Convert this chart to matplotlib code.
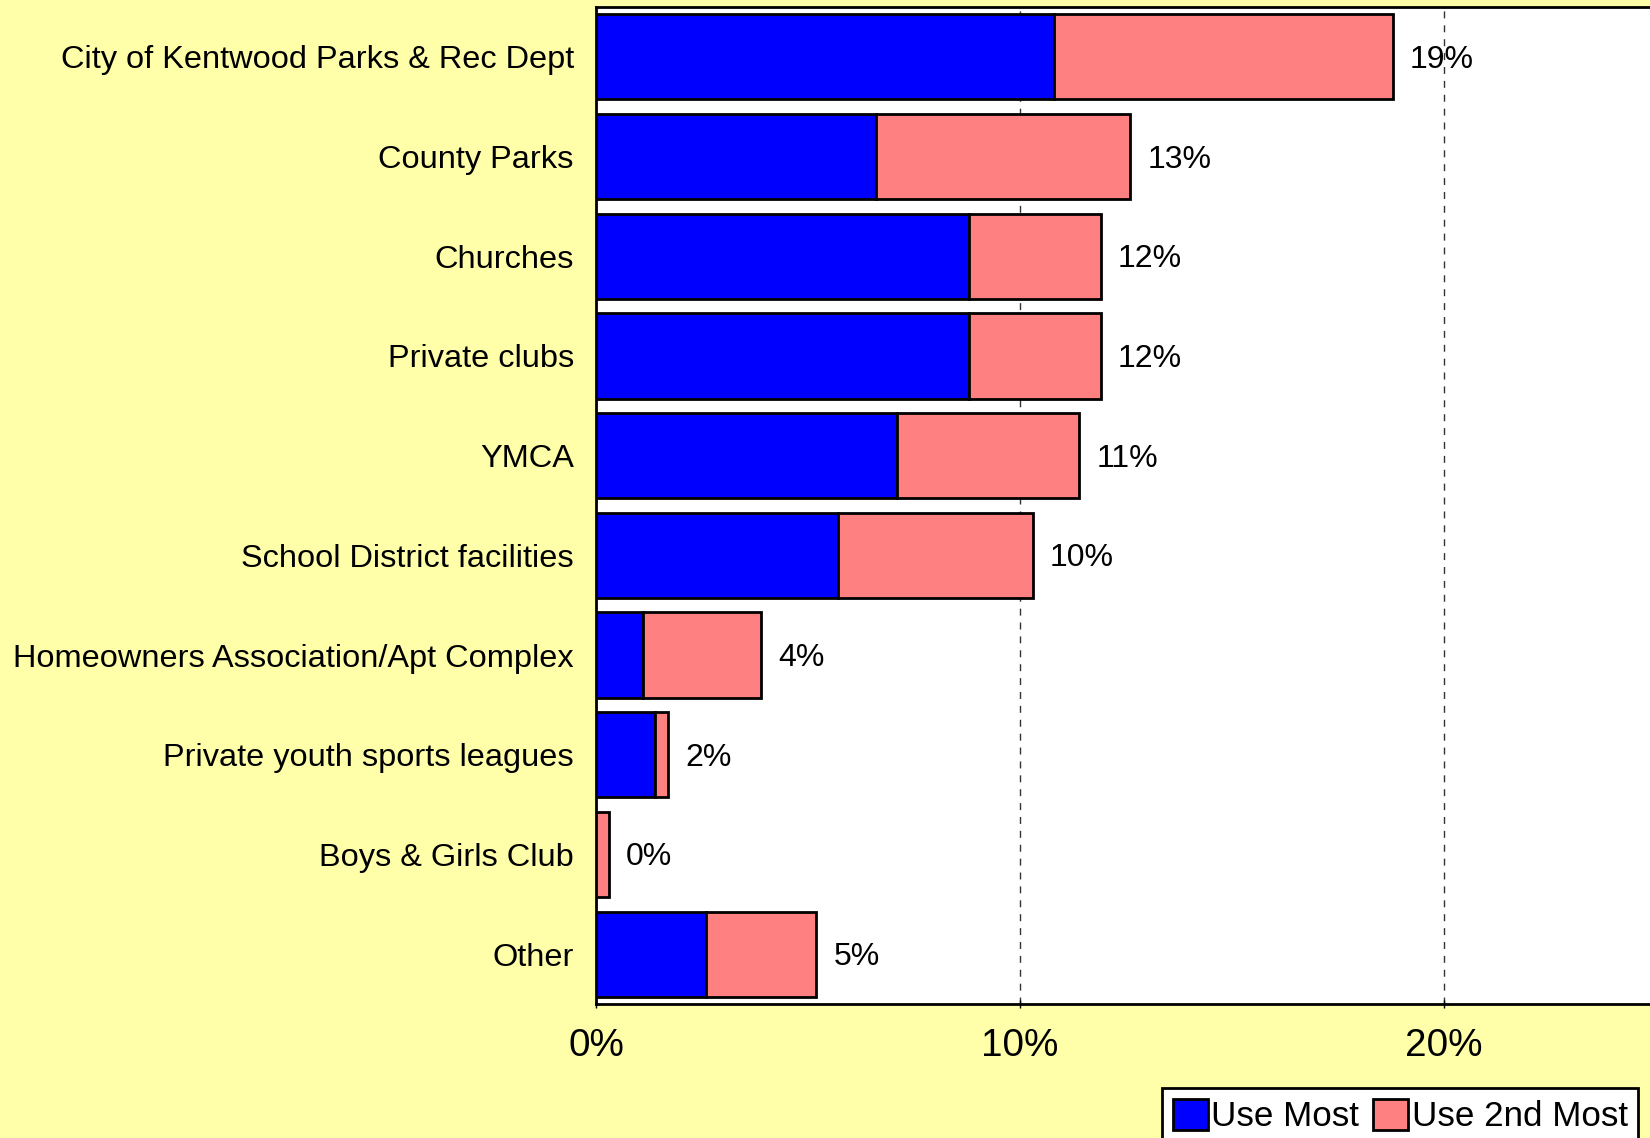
import numpy as np
import matplotlib.pyplot as plt
from matplotlib.patches import Patch

plt.rcParams['font.family'] = ['Liberation Sans', 'DejaVu Sans']

categories = ["City of Kentwood Parks & Rec Dept", "County Parks", "Churches",
              "Private clubs", "YMCA", "School District facilities",
              "Homeowners Association/Apt Complex", "Private youth sports leagues",
              "Boys & Girls Club", "Other"]
use_most = [10.8, 6.6, 8.8, 8.8, 7.1, 5.7, 1.1, 1.4, 0.0, 2.6]
use_2nd = [8.0, 6.0, 3.1, 3.1, 4.3, 4.6, 2.8, 0.3, 0.3, 2.6]
labels = ["19%", "13%", "12%", "12%", "11%", "10%", "4%", "2%", "0%", "5%"]
xticks = [0, 10, 20]
xticklabels = ["0%", "10%", "20%"]

bg = "#FFFFAA"
fig = plt.figure(figsize=(16.5, 11.38), dpi=100, facecolor=bg)
ax = fig.add_axes([596 / 1650, 1 - 1004 / 1138, (1650 - 596) / 1650, 997 / 1138])
ax.set_facecolor("white")

y = np.arange(len(categories))
ax.barh(y, use_most, height=0.855, color="#0000FF", edgecolor="black", linewidth=2, zorder=3)
ax.barh(y, use_2nd, left=use_most, height=0.855, color="#FF8080", edgecolor="black",
        linewidth=2, zorder=3)

totals = np.array(use_most) + np.array(use_2nd)
for yi, t, lab in zip(y, totals, labels):
    ax.text(t + 0.4, yi + 0.03, lab, va="center", ha="left", fontsize=23, zorder=4)

ax.set_ylim(len(categories) - 0.5, -0.5)
ax.set_xlim(0, (1650 - 596) / 42.4)
ax.set_yticks(y)
ax.set_yticklabels(categories, fontsize=23.4)
ax.set_xticks(xticks)
ax.set_xticklabels(xticklabels, fontsize=27.8)
ax.tick_params(axis="y", length=0, pad=16)
ax.tick_params(axis="x", direction="inout", length=6, width=1, pad=14)
ax.xaxis.grid(True, linestyle=(0, (5, 5)), color="#333333", linewidth=1, zorder=1)
for s in ["top", "left", "bottom"]:
    ax.spines[s].set_linewidth(2)
ax.spines["right"].set_visible(False)

handles = [Patch(facecolor="#0000FF", edgecolor="black", linewidth=2, label="Use Most"),
           Patch(facecolor="#FF8080", edgecolor="black", linewidth=2, label="Use 2nd Most")]
leg = fig.legend(handles=handles, loc="lower left", bbox_to_anchor=(1162 / 1650, -0.005),
                 ncol=2, fontsize=25.2, frameon=True, fancybox=False, handlelength=1.0,
                 handleheight=1.0, handletextpad=0.1, columnspacing=0.4,
                 borderpad=0.3, borderaxespad=0)
leg.get_frame().set_edgecolor("black")
leg.get_frame().set_linewidth(2)
leg.get_frame().set_facecolor("white")
leg.get_frame().set_alpha(1)

fig.savefig("out.png", dpi=100, facecolor=bg)
